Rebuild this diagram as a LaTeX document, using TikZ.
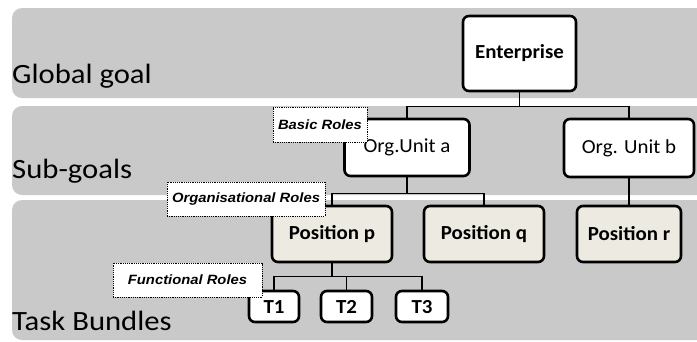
\documentclass[tikz,border=0pt]{standalone}
\usepackage{fontspec}
\setmainfont{Carlito}
\newfontfamily\bandfont[FakeStretch=1.1]{Carlito}
\newfontfamily\boxfont[FakeStretch=1.05]{Carlito}
\newfontfamily\labelfont[FakeStretch=1.1]{Liberation Sans}
\definecolor{bandgray}{RGB}{201,201,201}
\definecolor{posfill}{RGB}{236,234,225}
\begin{document}
\begin{tikzpicture}[x=1bp,y=-1bp,
  bandbox/.style={fill=bandgray, rounded corners=10bp},
  unit/.style={draw=black, line width=2.6bp, rounded corners=6bp, fill=white, inner sep=0pt, font=\boxfont\fontsize{20}{22}\selectfont},
  unitbold/.style={unit, font=\boxfont\fontsize{20}{22}\selectfont\bfseries},
  taskbox/.style={unitbold, text height=13bp, text depth=0pt, minimum height=31bp},
  posbox/.style={unitbold, fill=posfill},
  rolebox/.style={draw=black, fill=white, dash pattern=on 1.2bp off 1bp, line width=0.9bp, inner sep=0pt, font=\labelfont\fontsize{13.5}{15}\selectfont\bfseries\itshape},
  bandtext/.style={anchor=base west, inner sep=0pt, font=\bandfont\fontsize{28}{30}\selectfont},
  conn/.style={draw=black, line width=1.4bp}]
\useasboundingbox (0,0) rectangle (697,341);
\clip (0,0) rectangle (697,341);
\fill[white] (0,0) rectangle (697,341);
% bands
\fill[bandbox] (12,8) rectangle (730,98);
\fill[bandbox] (12,106) rectangle (730,195);
\fill[bandbox] (12,200) rectangle (730,340);
\node[bandtext] (gg) at (12,83) {Global goal};
\node[bandtext] (sg) at (12,178) {Sub-goals};
\node[bandtext] (tb) at (12,330) {Task Bundles};
% boxes
\node[unitbold, minimum width=113bp, minimum height=75bp] (ent) at (519.5,53.5) {Enterprise};
\node[unit, minimum width=125bp, minimum height=57bp] (oua) at (407,147.5) {Org.Unit a};
\node[unit, minimum width=130bp, minimum height=58bp] (oub) at (629,148) {Org. Unit b};
\node[posbox, minimum width=120bp, minimum height=56bp] (posp) at (332,234) {Position p};
\node[posbox, minimum width=120bp, minimum height=56bp] (posq) at (484,234) {Position q};
\node[posbox, minimum width=104bp, minimum height=56bp] (posr) at (629,234) {Position r};
\node[taskbox, minimum width=50bp] (t1) at (274,306.5) {T1};
\node[taskbox, minimum width=51bp] (t2) at (346.5,306.5) {T2};
\node[taskbox, minimum width=52bp] (t3) at (422,306.5) {T3};
% connectors
\draw[conn] (ent.south) -- ++(0,14) coordinate (bus1);
\draw[conn] (bus1) -| (oua.north);
\draw[conn] (bus1) -| (oub.north);
\draw[conn] (oua.south) -- ++(0,16) coordinate (bus2);
\draw[conn] (bus2) -| (posp.north);
\draw[conn] (bus2) -| (posq.north);
\draw[conn] (oub.south) -- (posr.north);
\draw[conn] (posp.south) -- ++(0,13) coordinate (bus3);
\draw[conn] (bus3) -| (t1.north);
\draw[conn] (bus3) -| (t2.north);
\draw[conn] (bus3) -| (t3.north);
% role labels
\node[rolebox, minimum width=94bp, minimum height=35bp] (br) at (320,124.5) {Basic Roles};
\node[rolebox, minimum width=158bp, minimum height=34bp] (orr) at (246,199) {Organisational Roles};
\node[rolebox, minimum width=149bp, minimum height=34bp] (fr) at (187.5,280) {Functional Roles};
\end{tikzpicture}
\end{document}
